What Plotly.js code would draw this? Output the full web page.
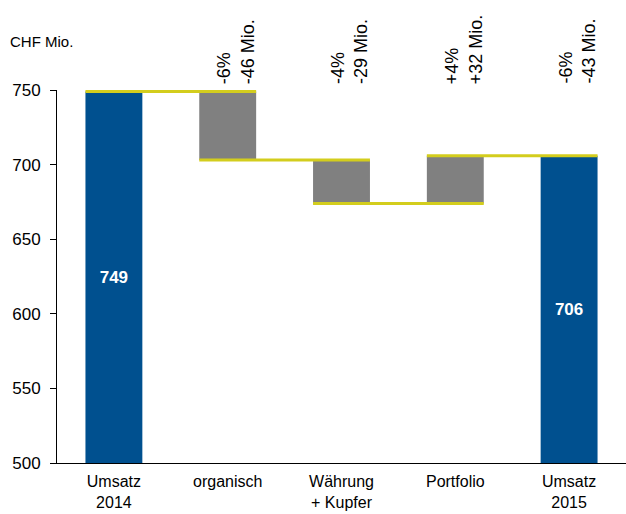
<!DOCTYPE html>
<html>
<head>
<meta charset="utf-8">
<script src="https://cdn.plot.ly/plotly-3.0.1.min.js"></script>
<style>html,body{margin:0;padding:0;background:#fff;}#chart{width:626px;height:514px;}</style>
</head>
<body>
<div id="chart"></div>
<script>
const categories = ['Umsatz<br>2014', 'organisch', 'Währung<br>+ Kupfer', 'Portfolio', 'Umsatz<br>2015'];
const startValue = 749;
const endValue = 706;
const deltas = [-46, -29, 32];
const changePct = ['-6%', '-4%', '+4%', '-6%'];
const changeMio = ['-46 Mio.', '-29 Mio.', '+32 Mio.', '-43 Mio.'];
const yTicks = [500, 550, 600, 650, 700, 750];

const BLUE = '#00508f';
const GRAY = '#808080';
const YELLOW = '#d3cd1d';
const HALF = 0.25;
const FONT = 'Liberation Sans, Arial, sans-serif';
const yMin = yTicks[0];
const yMax = yTicks[yTicks.length - 1];

// running levels
const levels = [startValue];
deltas.forEach(d => levels.push(levels[levels.length - 1] + d));
levels[levels.length - 1] = endValue;

const idx = categories.map((c, i) => i);
const totals = [startValue, endValue];

const totalsTrace = {
  type: 'bar',
  x: [0, categories.length - 1],
  y: totals.map(v => v - yMin),
  base: totals.map(() => yMin),
  width: HALF * 2,
  marker: {color: BLUE},
  text: totals.map(v => '<b>' + v + '</b>'),
  textposition: 'inside',
  insidetextanchor: 'middle',
  textangle: 0,
  textfont: {color: '#ffffff', size: 17, family: FONT},
  hoverinfo: 'skip'
};

const deltaTrace = {
  type: 'bar',
  x: deltas.map((d, i) => i + 1),
  y: deltas.map(d => Math.abs(d)),
  base: deltas.map((d, i) => Math.min(levels[i], levels[i + 1])),
  width: HALF * 2,
  marker: {color: GRAY},
  hoverinfo: 'skip'
};

const lx = [], ly = [];
for (let i = 0; i < levels.length; i++) {
  lx.push(i - HALF, i + 1 + HALF, null);
  ly.push(levels[i], levels[i], null);
}
const connectorTrace = {
  type: 'scatter', mode: 'lines', x: lx, y: ly,
  line: {color: YELLOW, width: 3},
  hoverinfo: 'skip', cliponaxis: false
};

const annotations = changePct.map((p, i) => ({
  x: i + 1, xref: 'x', y: 1, yref: 'paper',
  xanchor: 'center', yanchor: 'bottom',
  text: p + '<br>' + changeMio[i],
  textangle: -90, align: 'left', showarrow: false,
  xshift: 8, yshift: 4,
  font: {size: 18, color: '#000', family: FONT}
}));
annotations.push({
  x: 0, xref: 'paper', y: 1, yref: 'paper', xanchor: 'left', yanchor: 'bottom',
  text: 'CHF Mio.', showarrow: false, xshift: -49, yshift: 38,
  font: {size: 15, color: '#000', family: FONT}
});

const layout = {
  width: 626, height: 514,
  margin: {l: 57, r: 0, t: 90, b: 51},
  paper_bgcolor: '#fff', plot_bgcolor: '#fff',
  showlegend: false,
  barmode: 'overlay',
  font: {family: FONT, color: '#000'},
  xaxis: {
    range: [-0.5, 4.5], tickvals: idx, ticktext: categories,
    showgrid: false, zeroline: false, showline: true, linecolor: '#000', linewidth: 1,
    ticks: '', tickfont: {size: 16, color: '#000'}, ticklabelstandoff: 4, fixedrange: true
  },
  yaxis: {
    range: [yMin, yMax], tickvals: yTicks,
    showgrid: false, zeroline: false, showline: true, linecolor: '#000', linewidth: 1,
    ticks: 'outside', ticklen: 6, tickcolor: '#000', tickwidth: 1,
    tickfont: {size: 17, color: '#000'}, ticklabelstandoff: 6, fixedrange: true
  },
  annotations: annotations
};

Plotly.newPlot('chart', [totalsTrace, deltaTrace, connectorTrace], layout, {displayModeBar: false, staticPlot: true});
</script>
</body>
</html>
